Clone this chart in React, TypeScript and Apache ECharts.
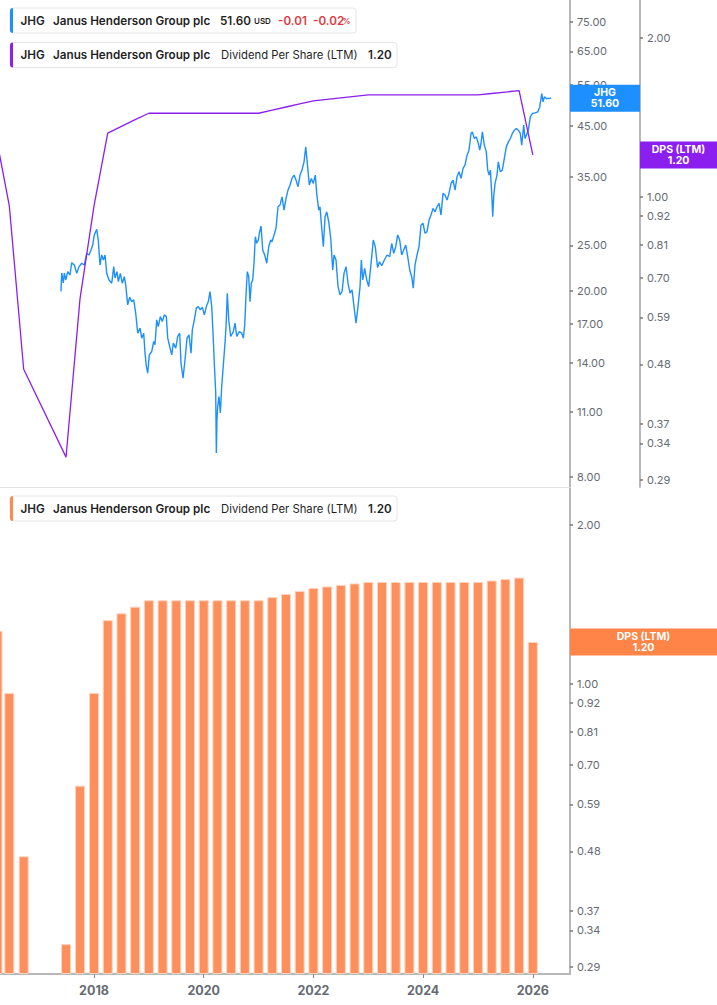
import { useEffect, useRef } from 'react';
import * as echarts from 'echarts';

const FONT = 'Inter, "Noto Sans", sans-serif';

// JHG price, x in decimal years
const priceYears = [
  2017.398, 2017.411, 2017.44, 2017.459, 2017.484, 2017.521, 2017.562, 2017.593, 2017.641, 2017.685,
  2017.727, 2017.776, 2017.823, 2017.867, 2017.909, 2017.945, 2017.976, 2018.005, 2018.049, 2018.078,
  2018.109, 2018.14, 2018.17, 2018.201, 2018.232, 2018.273, 2018.323, 2018.359, 2018.383, 2018.419,
  2018.443, 2018.48, 2018.516, 2018.552, 2018.578, 2018.614, 2018.651, 2018.687, 2018.724, 2018.76,
  2018.797, 2018.839, 2018.87, 2018.906, 2018.93, 2018.954, 2018.979, 2019.008, 2019.052, 2019.088,
  2019.112, 2019.143, 2019.172, 2019.209, 2019.245, 2019.282, 2019.318, 2019.344, 2019.38, 2019.417,
  2019.446, 2019.49, 2019.526, 2019.562, 2019.586, 2019.623, 2019.659, 2019.696, 2019.732, 2019.769,
  2019.792, 2019.829, 2019.865, 2019.902, 2019.938, 2019.975, 2020.011, 2020.048, 2020.084, 2020.115,
  2020.146, 2020.17, 2020.193, 2020.219, 2020.23, 2020.242, 2020.255, 2020.279, 2020.303, 2020.328,
  2020.365, 2020.388, 2020.407, 2020.43, 2020.456, 2020.492, 2020.54, 2020.571, 2020.602, 2020.649,
  2020.693, 2020.722, 2020.748, 2020.771, 2020.795, 2020.821, 2020.844, 2020.868, 2020.893, 2020.917,
  2020.941, 2020.966, 2020.995, 2021.014, 2021.045, 2021.076, 2021.112, 2021.149, 2021.185, 2021.222,
  2021.245, 2021.282, 2021.318, 2021.355, 2021.391, 2021.428, 2021.464, 2021.501, 2021.537, 2021.574,
  2021.61, 2021.647, 2021.683, 2021.719, 2021.756, 2021.792, 2021.829, 2021.86, 2021.889, 2021.925,
  2021.962, 2021.998, 2022.034, 2022.06, 2022.097, 2022.12, 2022.144, 2022.181, 2022.212, 2022.243,
  2022.279, 2022.316, 2022.352, 2022.376, 2022.412, 2022.449, 2022.485, 2022.522, 2022.558, 2022.595,
  2022.631, 2022.668, 2022.704, 2022.74, 2022.777, 2022.813, 2022.85, 2022.874, 2022.899, 2022.935,
  2022.972, 2023.008, 2023.045, 2023.092, 2023.129, 2023.169, 2023.205, 2023.245, 2023.293, 2023.342,
  2023.391, 2023.428, 2023.464, 2023.501, 2023.537, 2023.573, 2023.61, 2023.646, 2023.683, 2023.719,
  2023.756, 2023.792, 2023.821, 2023.852, 2023.889, 2023.925, 2023.962, 2023.998, 2024.035, 2024.071,
  2024.108, 2024.144, 2024.181, 2024.217, 2024.254, 2024.29, 2024.326, 2024.363, 2024.399, 2024.436,
  2024.472, 2024.509, 2024.545, 2024.582, 2024.618, 2024.655, 2024.691, 2024.728, 2024.764, 2024.801,
  2024.837, 2024.873, 2024.897, 2024.934, 2024.97, 2025.007, 2025.032, 2025.056, 2025.08, 2025.116,
  2025.152, 2025.178, 2025.202, 2025.226, 2025.251, 2025.269, 2025.287, 2025.311, 2025.347, 2025.371,
  2025.408, 2025.444, 2025.481, 2025.517, 2025.554, 2025.59, 2025.627, 2025.663, 2025.7, 2025.736,
  2025.772, 2025.798, 2025.834, 2025.858, 2025.895, 2025.918, 2025.955, 2025.991, 2026.04, 2026.09,
  2026.126, 2026.163, 2026.187, 2026.211, 2026.247, 2026.283, 2026.332,
];

const priceValues = [
  19.9, 21.81, 20.76, 21.81, 21.07, 21.95, 21.59, 22.94, 22.68, 21.77,
  22.5, 22.88, 22.68, 24.03, 23.83, 24.42, 25.03, 26.3, 27.04, 25.65,
  22.68, 23.83, 23.25, 23.83, 21.77, 21.07, 20.73, 22.5, 21.28, 21.95,
  20.9, 21.77, 20.73, 21.41, 20.56, 18.64, 19.35, 18.94, 19.1, 17.89,
  16.21, 16.62, 15.82, 16.21, 14.69, 13.76, 13.31, 14.57, 14.81, 15.56,
  15.31, 17.31, 16.75, 17.59, 17.17, 17.74, 17.59, 15.82, 15.18, 14.57,
  15.44, 15.06, 15.95, 16.21, 13.99, 12.99, 14.22, 15.82, 16.08, 14.69,
  16.48, 17.31, 18.34, 18.48, 18.18, 18.43, 17.74, 18.48, 18.94, 19.89,
  18.48, 16.21, 13.99, 12.07, 8.98, 10.58, 11.3, 11.87, 10.94, 12.47,
  14.22, 15.44, 16.75, 19.74, 17.31, 15.95, 16.34, 17.03, 15.95, 16.34,
  16.21, 15.82, 16.89, 19.57, 21.95, 21.41, 18.94, 20.73, 21.07, 22.88,
  26.08, 25.24, 25.65, 26.52, 27.49, 24.42, 23.83, 22.88, 24.82, 25.65,
  25.44, 26.3, 27.18, 30.22, 30.47, 31.74, 29.73, 31.49, 32.81, 33.63,
  34.75, 35.32, 34.46, 33.35, 35.32, 36.2, 37.7, 40.59, 37.41, 33.63,
  34.75, 33.9, 35.32, 32.28, 29.73, 30.22, 27.85, 24.82, 28.77, 29.48,
  28.07, 25.86, 22.13, 23.83, 23.25, 20.39, 19.57, 19.89, 21.77, 22.5,
  20.73, 19.74, 20.06, 18.48, 17.03, 18.48, 20.39, 23.25, 21.07, 22.32,
  21.07, 20.39, 22.5, 25.65, 24.8, 22.4, 23.05, 22.6, 23.25, 23.83,
  23.63, 25.24, 24.03, 24.82, 26.3, 25.65, 23.83, 24.42, 25.03, 23.63,
  22.13, 21.41, 20.23, 22.68, 23.83, 24.82, 27.62, 27.85, 26.52, 26.73,
  28.31, 29.01, 29.98, 29.48, 30.22, 30.73, 29.01, 32.28, 32.01, 31.23,
  32.28, 33.9, 34.46, 32.81, 35.02, 35.9, 34.75, 36.5, 37.1, 38.97,
  39.94, 43.36, 43.7, 42.3, 42.64, 41.27, 39.94, 41.27, 43.7, 40.93,
  39.61, 36.2, 35.32, 36.2, 32.28, 28.77, 31.74, 33.9, 35.32, 37.7,
  35.9, 36.2, 38.34, 40.59, 41.6, 42.3, 43.36, 44.07, 44.44, 44.07,
  43.36, 40.93, 45.17, 42.3, 43.36, 44.07, 47.05, 47.84, 47.98, 48.22,
  49.42, 52.79, 50.65, 51.92, 51.5, 51.5, 51.6,
];

// Dividend per share (LTM), quarterly
const dpsYears = [
  2016.24, 2016.456, 2016.718, 2017.49, 2017.745,
  2018.0, 2018.25, 2018.5, 2018.75, 2019.0, 2019.25, 2019.5, 2019.75,
  2020.0, 2020.25, 2020.5, 2020.75, 2021.0, 2021.25, 2021.5, 2021.75,
  2022.0, 2022.25, 2022.5, 2022.75, 2023.0, 2023.25, 2023.5, 2023.75,
  2024.0, 2024.25, 2024.5, 2024.75, 2025.0, 2025.25, 2025.5, 2025.75, 2026.0,
];
const dpsValues = [
  1.26, 0.96, 0.47, 0.32, 0.64,
  0.96, 1.32, 1.36, 1.4, 1.44, 1.44, 1.44, 1.44,
  1.44, 1.44, 1.44, 1.44, 1.44, 1.46, 1.48, 1.5,
  1.52, 1.53, 1.54, 1.55, 1.56, 1.56, 1.56, 1.56,
  1.56, 1.56, 1.56, 1.56, 1.56, 1.57, 1.58, 1.59, 1.2,
];

const priceTicks = [75, 65, 55, 45, 35, 25, 20, 17, 14, 11, 8];
const dpsTicks = [2, 1, 0.92, 0.81, 0.7, 0.59, 0.48, 0.37, 0.34, 0.29];
const yearTicks = [2018, 2020, 2022, 2024, 2026];

const lastPrice = 51.6;
const lastDps = 1.2;

const X_MIN = 2016.286;
const X_MAX = 2026.678;
const PRICE_MIN = 2.028; // ln scale
const PRICE_MAX = 4.427;
const DPS_MIN = -1.27;
const DPS_MAX = 0.86;

const BLUE = '#1e8fff';
const PURPLE = '#8b1ff0';
const ORANGE = '#fd8f5c';
const AXIS = '#b8b8b8';
const LABEL = '#666b73';

type Part = { text: string; x: number; weight?: number; size?: number; color?: string };

function legend(top: number, width: number, accent: string, parts: Part[]) {
  return {
    type: 'group',
    z: 100,
    children: [
      {
        type: 'rect',
        shape: { x: 10, y: top, width, height: 25, r: 3 },
        style: { fill: '#fff', stroke: '#e6e6e6', lineWidth: 1 },
      },
      {
        type: 'rect',
        shape: { x: 10, y: top, width: 3, height: 25, r: [3, 0, 0, 3] },
        style: { fill: accent },
      },
      ...parts.map((p) => ({
        type: 'text',
        x: p.x,
        y: top + 12.5,
        style: {
          text: p.text,
          fill: p.color || '#1f1f1f',
          fontSize: p.size || 11.7,
          fontWeight: p.weight || 600,
          fontFamily: FONT,
          align: 'left',
          verticalAlign: 'middle',
        },
      })),
    ],
  };
}

// coloured box on the axis with a two-line white label
function valueBox(x: number, y: number, w: number, fill: string, top: string, bottom: string) {
  const line = (text: string, dy: number) => ({
    type: 'text',
    z: 101,
    x: x + w / 2,
    y: y + dy,
    style: {
      text,
      fill: '#fff',
      fontSize: 10.5,
      fontWeight: 'bold',
      fontFamily: FONT,
      align: 'center',
      verticalAlign: 'middle',
    },
  });
  return [
    { type: 'rect', z: 100, shape: { x, y: y - 13.5, width: w, height: 27 }, style: { fill } },
    line(top, -5.5),
    line(bottom, 5.5),
  ];
}

export default function App() {
  const chartRef = useRef<HTMLDivElement>(null);

  useEffect(() => {
    document.body.style.margin = '0';
    if (!chartRef.current) return;
    const chart = echarts.init(chartRef.current, undefined, { renderer: 'svg' });

    const priceData = priceYears.map((t, i) => [t, Math.log(priceValues[i])]);
    const dpsLine = dpsYears.map((t, i) => [t, Math.log(dpsValues[i])]);
    // bars measured from the bottom of the log axis
    const dpsBars = dpsYears.map((t, i) => [t, Math.log(dpsValues[i]) - DPS_MIN]);

    const yLabel = { color: LABEL, fontSize: 11, fontFamily: FONT, margin: 7 };
    const yTick = { show: true, length: 3, lineStyle: { color: '#777', width: 1.5 } };

    const option: any = {
      animation: false,
      backgroundColor: '#fff',
      grid: [
        { left: 0, right: 147, top: 0, height: 487, containLabel: false, outerBoundsMode: 'none' },
        { left: 0, right: 147, top: 487, height: 487, containLabel: false, outerBoundsMode: 'none' },
      ],
      xAxis: [
        {
          type: 'value',
          gridIndex: 0,
          min: X_MIN,
          max: X_MAX,
          axisLine: { show: true, onZero: false, lineStyle: { color: '#e2e2e2', width: 1 } },
          axisTick: { show: false },
          axisLabel: { show: false },
          splitLine: { show: false },
        },
        {
          type: 'value',
          gridIndex: 1,
          min: X_MIN,
          max: X_MAX,
          axisLine: { show: true, onZero: false, lineStyle: { color: AXIS, width: 2 } },
          axisTick: { show: true, customValues: yearTicks, length: 4, lineStyle: { color: '#888' } },
          axisLabel: {
            customValues: yearTicks,
            formatter: (v: number) => String(Math.round(v)),
            color: LABEL,
            fontWeight: 'bold',
            fontSize: 12.5,
            fontFamily: FONT,
            margin: 10,
          },
          splitLine: { show: false },
        },
      ],
      yAxis: [
        {
          type: 'value',
          gridIndex: 0,
          position: 'right',
          min: PRICE_MIN,
          max: PRICE_MAX,
          axisLine: { show: true, onZero: false, lineStyle: { color: AXIS, width: 2 } },
          axisTick: { ...yTick, customValues: priceTicks.map((v) => Math.log(v)) },
          axisLabel: {
            ...yLabel,
            customValues: priceTicks.map((v) => Math.log(v)),
            formatter: (v: number) => Math.exp(v).toFixed(2),
          },
          splitLine: { show: false },
        },
        {
          type: 'value',
          gridIndex: 0,
          position: 'right',
          offset: 70,
          min: DPS_MIN,
          max: DPS_MAX,
          axisLine: { show: true, onZero: false, lineStyle: { color: AXIS, width: 2 } },
          axisTick: { ...yTick, customValues: dpsTicks.map((v) => Math.log(v)) },
          axisLabel: {
            ...yLabel,
            customValues: dpsTicks.map((v) => Math.log(v)),
            formatter: (v: number) => Math.exp(v).toFixed(2),
          },
          splitLine: { show: false },
        },
        {
          type: 'value',
          gridIndex: 1,
          position: 'right',
          min: 0,
          max: DPS_MAX - DPS_MIN,
          axisLine: { show: true, onZero: false, lineStyle: { color: AXIS, width: 2 } },
          axisTick: { ...yTick, customValues: dpsTicks.map((v) => Math.log(v) - DPS_MIN) },
          axisLabel: {
            ...yLabel,
            customValues: dpsTicks.map((v) => Math.log(v) - DPS_MIN),
            formatter: (v: number) => Math.exp(v + DPS_MIN).toFixed(2),
          },
          splitLine: { show: false },
        },
      ],
      series: [
        {
          name: 'JHG',
          type: 'line',
          xAxisIndex: 0,
          yAxisIndex: 0,
          data: priceData,
          showSymbol: false,
          lineStyle: { color: BLUE, width: 1.4 },
          z: 2,
        },
        {
          name: 'DPS (LTM)',
          type: 'line',
          xAxisIndex: 0,
          yAxisIndex: 1,
          data: dpsLine,
          showSymbol: false,
          lineStyle: { color: PURPLE, width: 1.3 },
          z: 3,
        },
        {
          name: 'DPS bars',
          type: 'bar',
          xAxisIndex: 1,
          yAxisIndex: 2,
          data: dpsBars,
          barWidth: 10,
          itemStyle: { color: ORANGE, borderColor: '#ffd3bd', borderWidth: 1 },
        },
      ],
    };

    chart.setOption(option);

    const yPrice = chart.convertToPixel({ yAxisIndex: 0 }, Math.log(lastPrice)) as number;
    const yDpsTop = chart.convertToPixel({ yAxisIndex: 1 }, Math.log(lastDps)) as number;
    const yDpsBottom = chart.convertToPixel({ yAxisIndex: 2 }, Math.log(lastDps) - DPS_MIN) as number;

    const title: Part[] = [
      { text: 'JHG', x: 20.5 },
      { text: 'Janus Henderson Group plc', x: 53 },
    ];
    const dpsParts: Part[] = [
      ...title,
      { text: 'Dividend Per Share (LTM)', x: 221, weight: 400, size: 11.3 },
      { text: lastDps.toFixed(2), x: 368 },
    ];

    chart.setOption({
      graphic: {
        elements: [
          legend(8, 346, BLUE, [
            ...title,
            { text: lastPrice.toFixed(2), x: 220 },
            { text: 'USD', x: 254, size: 8 },
            { text: '-0.01', x: 278, color: '#e0393e' },
            { text: '-0.02', x: 313, color: '#e0393e' },
            { text: '%', x: 342.5, size: 8, color: '#e0393e' },
          ]),
          legend(42.5, 387, PURPLE, dpsParts),
          legend(496, 387, '#ff8a50', dpsParts),
          ...valueBox(570, yPrice, 70, BLUE, 'JHG', lastPrice.toFixed(2)),
          ...valueBox(640, yDpsTop, 77, PURPLE, 'DPS (LTM)', lastDps.toFixed(2)),
          ...valueBox(570, yDpsBottom, 147, '#ff8447', 'DPS (LTM)', lastDps.toFixed(2)),
        ],
      },
    });

    return () => {
      chart.dispose();
    };
  }, []);

  return <div ref={chartRef} style={{ width: '717px', height: '1005px' }} />;
}
